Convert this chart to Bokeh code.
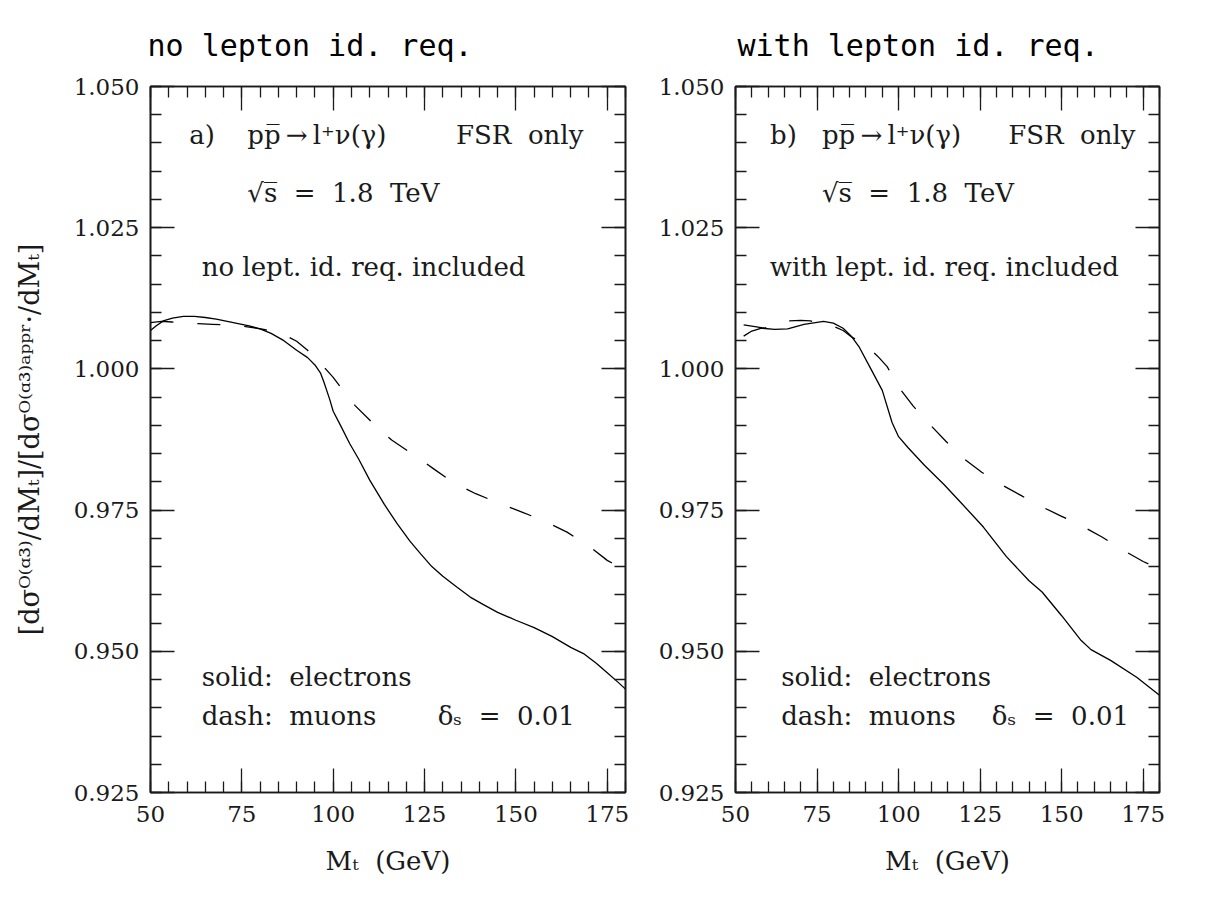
from bokeh.plotting import figure
from bokeh.models import LinearAxis, FixedTicker, Range1d, PrintfTickFormatter
from bokeh.layouts import row
from bokeh.embed import file_html
from bokeh.resources import INLINE
from bokeh.core.properties import value

# ---------------- data ----------------
# panel a) no lepton id. requirement
mt_e_a = [50, 51.5, 53.5, 56, 59, 62, 65, 68, 71, 74, 77, 80, 83, 86.5, 90, 93, 95,
          96.5, 97.5, 99, 100, 102, 104.5, 107, 110, 114, 117.5, 121, 124, 127, 130,
          134, 137.5, 141, 145, 150, 155, 160, 165, 168.5, 172, 175, 178, 180]
r_e_a = [1.0068, 1.0076, 1.0085, 1.0090, 1.0093, 1.0093, 1.0091, 1.0088, 1.0084,
         1.0080, 1.0076, 1.0071, 1.0063, 1.0050, 1.0033, 1.0020, 1.0007, 0.9993,
         0.9976, 0.9947, 0.9925, 0.9900, 0.9868, 0.9840, 0.9803, 0.9760, 0.9726,
         0.9695, 0.9672, 0.9650, 0.9633, 0.9613, 0.9596, 0.9583, 0.9569, 0.9555,
         0.9542, 0.9526, 0.9507, 0.9496, 0.9479, 0.9462, 0.9445, 0.9433]
mt_m_a = [50, 53, 56, 59, 63, 67, 70, 73.5, 77, 81, 84, 87, 90, 93, 95, 97.5, 100,
          102, 106, 111, 116, 122, 127.5, 133, 139, 145.5, 151.5, 158, 164, 170,
          175, 180]
r_m_a = [1.0082, 1.0084, 1.0083, 1.0081, 1.0080, 1.0079, 1.0078, 1.0077, 1.0074,
         1.0070, 1.0065, 1.0059, 1.0049, 1.0033, 1.0018, 1.0003, 0.9985, 0.9968,
         0.9935, 0.9903, 0.9874, 0.9848, 0.9823, 0.9798, 0.9779, 0.9762, 0.9747,
         0.9730, 0.9711, 0.9686, 0.9661, 0.9643]

# panel b) with lepton id. requirement
mt_e_b = [52.5, 55, 58, 62, 66, 71, 77, 80, 83, 85.5, 88, 91.5, 95, 98, 100, 103,
          108, 114, 119, 126, 133, 140, 144, 150, 156, 159, 165, 173, 180]
r_e_b = [1.0058, 1.0067, 1.0072, 1.0070, 1.0071, 1.0079, 1.0084, 1.0081, 1.0072,
         1.0058, 1.0038, 1.0000, 0.9962, 0.9905, 0.9880, 0.9860, 0.9829, 0.9795,
         0.9764, 0.9720, 0.9668, 0.9625, 0.9605, 0.9563, 0.9519, 0.9503, 0.9484,
         0.9454, 0.9422]
mt_m_b = [52.5, 56, 59, 63, 66, 70, 73, 76, 79.5, 83, 85.5, 88.5, 91.5, 94, 96.5,
          100, 104.5, 109.5, 114.5, 120, 125.5, 131.5, 137.5, 143.5, 150, 156.5,
          162.5, 168.5, 175, 180]
r_m_b = [1.0078, 1.0075, 1.0072, 1.0080, 1.0085, 1.0086, 1.0085, 1.0081, 1.0077,
         1.0068, 1.0057, 1.0047, 1.0034, 1.0020, 1.0004, 0.9968, 0.9934, 0.9902,
         0.9872, 0.9841, 0.9817, 0.9795, 0.9776, 0.9757, 0.9739, 0.9721, 0.9702,
         0.9680, 0.9659, 0.9646]

x_major = [50, 75, 100, 125, 150, 175]
x_minor = list(range(50, 181, 5))
y_major = [0.925, 0.950, 0.975, 1.000, 1.025, 1.050]
y_minor = [round(0.925 + 0.005 * i, 3) for i in range(26)]

NB = "\u00a0"
titles = ["no lepton id. req.", "with lepton id. req."]
panel_tags = ["a)", "b)"]
process = "pp\u0305\u2009\u2192\u2009l\u207a\u03bd(\u03b3)"
fsr = "FSR" + NB + " only"
energy = "\u221as\u0305 " + NB + "= " + NB + "1.8 " + NB + "TeV"
lid_notes = ["no lept. id. req. included", "with lept. id. req. included"]
legend1 = "solid:" + NB + " electrons"
legend2 = "dash:" + NB + " muons"
delta = "\u03b4\u209b " + NB + "= " + NB + "0.01"
xlabel = "M\u209c " + NB + "(GeV)"
ylabel = "[d\u03c3\u1d3c\u207d\u1d45\u00b3\u207e/dM\u209c]/[d\u03c3\u1d3c\u207d\u1d45\u00b3\u207e\u1d43\u1d56\u1d56\u02b3\u00b7/dM\u209c]"

SERIF = "DejaVu Serif"
INK = "#1a1a1a"


def style_axis(ax, ticker, fmt, show_labels):
    ax.ticker = ticker
    ax.axis_line_color = INK
    ax.axis_line_width = 1.6
    ax.major_tick_line_color = INK
    ax.minor_tick_line_color = INK
    ax.major_tick_line_width = 1.3
    ax.minor_tick_line_width = 1.3
    ax.major_tick_in = 24
    ax.major_tick_out = 0
    ax.minor_tick_in = 11
    ax.minor_tick_out = 0
    if show_labels:
        ax.formatter = fmt
        ax.major_label_text_font = SERIF
        ax.major_label_text_font_size = "23px"
        ax.major_label_text_color = INK
    else:
        ax.major_label_text_font_size = "0px"
        ax.major_label_text_color = None
        ax.major_label_standoff = 0
        ax.axis_label_standoff = 0


def make_panel(i, fw, ml, mr, xe, ye, xm, ym, show_ylabel, title_offset):
    p = figure(frame_width=fw, frame_height=706,
               x_range=Range1d(50, 180), y_range=Range1d(0.925, 1.050),
               output_backend="svg", toolbar_location=None,
               min_border_left=ml, min_border_right=mr,
               min_border_top=86, min_border_bottom=105)
    p.grid.visible = False
    p.outline_line_color = INK
    p.outline_line_width = 1.6
    p.background_fill_color = "white"
    p.border_fill_color = "white"

    xt = FixedTicker(ticks=x_major, minor_ticks=x_minor)
    yt = FixedTicker(ticks=y_major, minor_ticks=y_minor)
    style_axis(p.xaxis[0], xt, PrintfTickFormatter(format="%d"), True)
    style_axis(p.yaxis[0], yt, PrintfTickFormatter(format="%.3f"), True)
    p.xaxis.major_label_standoff = 13
    p.yaxis.major_label_standoff = 11
    p.xaxis.axis_label = xlabel
    p.xaxis.axis_label_text_font = SERIF
    p.xaxis.axis_label_text_font_size = "26px"
    p.xaxis.axis_label_text_font_style = "normal"
    p.xaxis.axis_label_text_color = INK
    p.xaxis.axis_label_standoff = 21
    if show_ylabel:
        p.yaxis.axis_label = ylabel
        p.yaxis.axis_label_text_font = SERIF
        p.yaxis.axis_label_text_font_size = "27px"
        p.yaxis.axis_label_text_font_style = "normal"
        p.yaxis.axis_label_text_color = INK
        p.yaxis.axis_label_standoff = 26

    top = LinearAxis()
    style_axis(top, FixedTicker(ticks=x_major, minor_ticks=x_minor), None, False)
    p.add_layout(top, "above")
    right = LinearAxis()
    style_axis(right, FixedTicker(ticks=y_major, minor_ticks=y_minor), None, False)
    p.add_layout(right, "right")

    p.title.text = titles[i]
    p.title.text_font = "DejaVu Sans Mono"
    p.title.text_font_size = "30px"
    p.title.text_font_style = "normal"
    p.title.text_color = "black"
    p.title.align = "left"
    p.title.offset = title_offset
    p.title.standoff = 47

    p.line(xe, ye, line_color="black", line_width=1.3)
    p.line(xm, ym, line_color="black", line_width=1.3, line_dash="23 24")

    def txt(x, y, s):
        p.text(x=[x], y=[y], text=[s], text_font=value(SERIF), text_font_size="26px",
               text_align="left", text_baseline="middle", text_color=INK)

    txt(60.6, 1.0415, panel_tags[i])
    txt(76.5, 1.0415, process)
    txt(133.6, 1.0415, fsr)
    txt(76.5, 1.0312, energy)
    txt(64.0 if i == 0 else 60.5, 1.0181, lid_notes[i])
    txt(64.0, 0.9454, legend1)
    txt(64.0, 0.9385, legend2)
    txt(128.6, 0.9385, delta)
    return p


p1 = make_panel(0, 475, 150, 30, mt_e_a, r_e_a, mt_m_a, r_m_a, True, -3)
p2 = make_panel(1, 424, 76, 66, mt_e_b, r_e_b, mt_m_b, r_m_b, False, 2)

layout = row(p1, p2, spacing=0)
open("out.html", "w").write(file_html(layout, INLINE))
